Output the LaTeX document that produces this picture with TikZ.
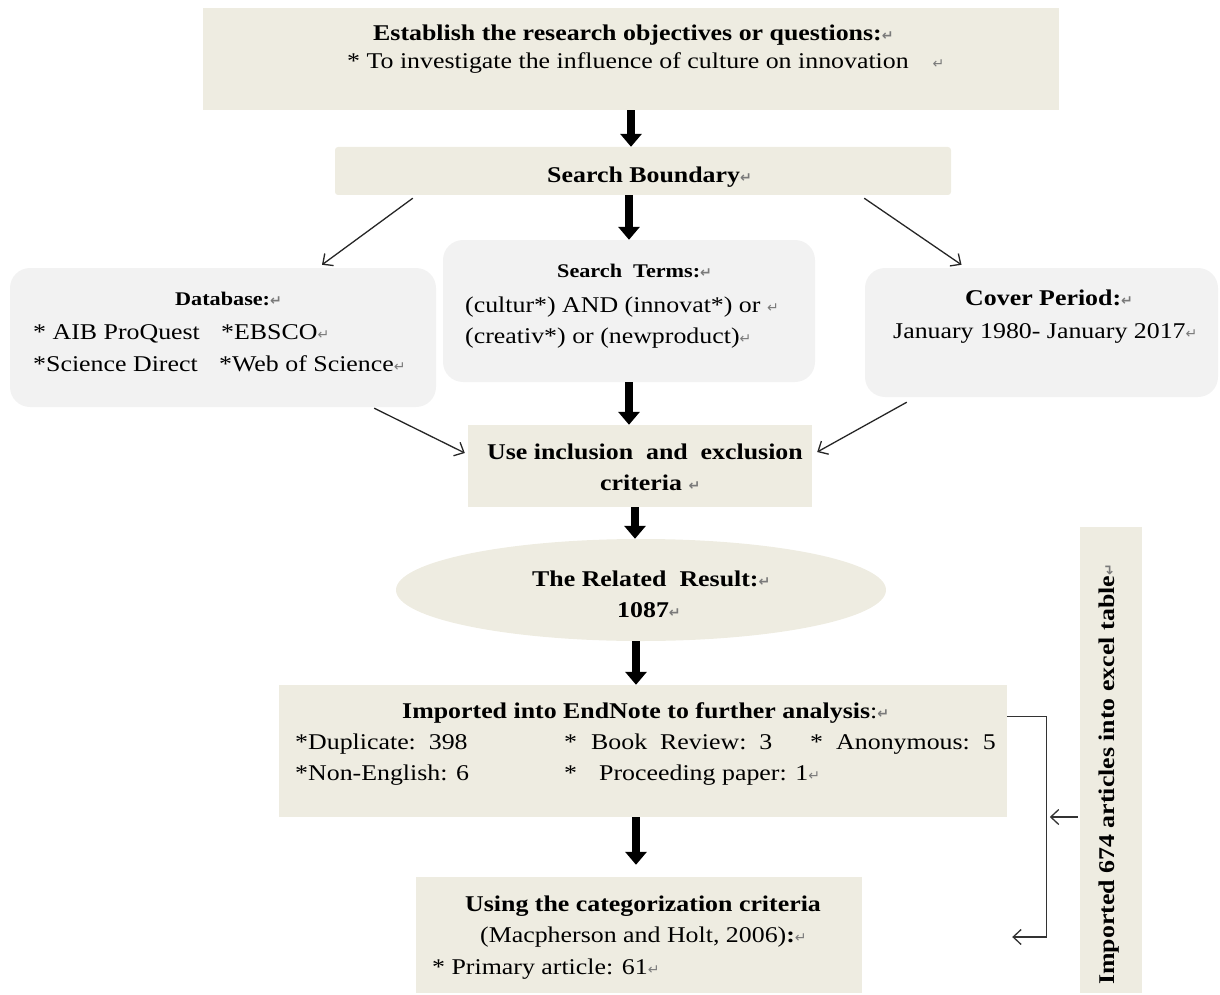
\documentclass[tikz,border=0pt]{standalone}
\usepackage{fontspec}
\setmainfont[FakeStretch=1.15]{Liberation Serif}
\newfontfamily\retfont{DejaVu Sans}
\usetikzlibrary{arrows.meta,shapes.geometric,calc}
\definecolor{beige}{HTML}{EEECE1}
\definecolor{lgray}{HTML}{F2F2F2}
\definecolor{retgray}{HTML}{7A7A7A}
\newcommand{\rmk}{{\retfont\fontsize{14}{14}\selectfont\textcolor{retgray}{↵}}}
\begin{document}
\begin{tikzpicture}[x=1pt,y=-1pt,
  txt/.style={anchor=base west, inner sep=0pt, font=\fontsize{22.5}{28}\selectfont},
  btxt/.style={txt, font=\fontsize{22.5}{28}\selectfont\bfseries},
  htxt/.style={txt, font=\fontsize{19.3}{24}\selectfont\bfseries},
  bbox/.style={rectangle, fill=beige, inner sep=0pt},
  gbox/.style={rectangle, rounded corners=20pt, fill=lgray, inner sep=0pt},
  fatarrow/.style={line width=8pt, -{Triangle[length=13pt,width=21pt]}},
  thinarrow/.style={line width=1.3pt, draw=black!85, -{Straight Barb[length=8pt,width=15pt]}},
  bracket/.style={line width=1.3pt, draw=black!80, -{Straight Barb[length=8pt,width=15pt]}}
]
\useasboundingbox (0,0) rectangle (1220,995);

% boxes
\node[bbox, minimum width=856pt, minimum height=102pt] (top) at (631,59) {};
\node[bbox, rounded corners=3pt, minimum width=616pt, minimum height=48pt] (sb) at (643,171) {};
\node[gbox, minimum width=426pt, minimum height=139pt] (db) at (223,337.5) {};
\node[gbox, minimum width=372pt, minimum height=142pt] (st) at (629,311) {};
\node[gbox, minimum width=353pt, minimum height=129pt] (cp) at (1041.5,332.5) {};
\node[bbox, minimum width=344pt, minimum height=82pt] (inc) at (640,466) {};
\node[ellipse, fill=beige, inner sep=0pt, minimum width=490pt, minimum height=102pt] (ell) at (641,590) {};
\node[bbox, minimum width=728pt, minimum height=132pt] (en) at (643,751) {};
\node[bbox, minimum width=446pt, minimum height=116pt] (cat) at (639,935) {};
\node[bbox, minimum width=62pt, minimum height=466pt] (vt) at (1111,760) {};

% texts
\node[btxt] (t1) at (373,41) {Establish the research objectives or questions:\rmk};
\node[txt] (t2) at (347,69) {* To investigate the influence of culture on innovation\hspace{24pt}\rmk};
\node[btxt] (t3) at (547,183) {Search Boundary\rmk};

\node[htxt] (t4) at (175,305) {Database:\rmk};
\node[txt] (t5) at (33,339) {* AIB ProQuest};
\node[txt] (t6) at (221,339) {*EBSCO\rmk};
\node[txt] (t7) at (33,371) {*Science Direct};
\node[txt] (t8) at (219,371) {*Web of Science\rmk};

\node[htxt] (t9) at (557,277) {Search\ \ Terms:\rmk};
\node[txt] (t10) at (465,312) {(cultur*) AND (innovat*) or \rmk};
\node[txt] (t11) at (465,343) {(creativ*) or (newproduct)\rmk};

\node[btxt] (t12) at (965,305) {Cover Period:\rmk};
\node[txt] (t13) at (893,338) {January 1980- January 2017\rmk};

\node[btxt] (t14) at (487,459) {Use inclusion\ \ and\ \ exclusion};
\node[btxt] (t15) at (600,490) {criteria \rmk};

\node[btxt] (t16) at (532,586) {The Related\ \ Result:\rmk};
\node[btxt] (t17) at (617,617) {1087\rmk};

\node[btxt] (t18) at (402,718) {Imported into EndNote to further analysis\textmd{:}\rmk};
\node[txt] (t19) at (295,749) {*Duplicate:\ \ 398};
\node[txt] (t20) at (564,749) {*};
\node[txt] (t21) at (591,749) {Book\ \ Review:\ \ 3};
\node[txt] (t22) at (810,749) {*};
\node[txt] (t23) at (836,749) {Anonymous:\ \ 5};
\node[txt] (t24) at (295,780) {*Non-English: 6};
\node[txt] (t25) at (564,780) {*};
\node[txt] (t26) at (599,780) {Proceeding paper: 1\rmk};

\node[btxt] (t27) at (465,911) {Using the categorization criteria};
\node[txt] (t28) at (480,942) {(Macpherson and Holt, 2006)\textbf{:}\rmk};
\node[txt] (t29) at (432,974) {* Primary article: 61\rmk};

\node[btxt, rotate=90] (t30) at (1114,985) {Imported 674 articles into excel table\rmk};

% thick arrows
\draw[fatarrow] (top.south) -- (top.south |- sb.north);
\draw[fatarrow] (st.north |- sb.south) -- (st.north);
\draw[fatarrow] (st.south) -- (st.south |- inc.north);
\draw[fatarrow] ($(inc.south)+(-5,0)$) -- ($(ell.north)+(-6,0)$);
\draw[fatarrow] ($(ell.south)+(-5,0)$) -- ($(en.north)+(-7,0)$);
\draw[fatarrow] ($(en.south)+(-7,0)$) -- ($(cat.north)+(-3,-12)$);

% thin arrows
\draw[thinarrow] ($(sb.south west)+(78,3)$) -- ($(db.north)+(99,-3)$);
\draw[thinarrow] ($(sb.south east)+(-87,3)$) -- ($(cp.north)+(-80,-3)$);
\draw[thinarrow] ($(db.south east)+(-62,1)$) -- ($(inc.west)+(-3,-13)$);
\draw[thinarrow] ($(cp.south west)+(42,5)$) -- ($(inc.east)+(5,-14)$);

% bracket
\draw[bracket] ($(en.north east)+(0,32)$) -- ++(39,0) |- ($(cat.east)+(150,2)$);
\draw[bracket] ($(vt.west)+(-2,57)$) -- ++(-28,0);
\end{tikzpicture}
\end{document}
